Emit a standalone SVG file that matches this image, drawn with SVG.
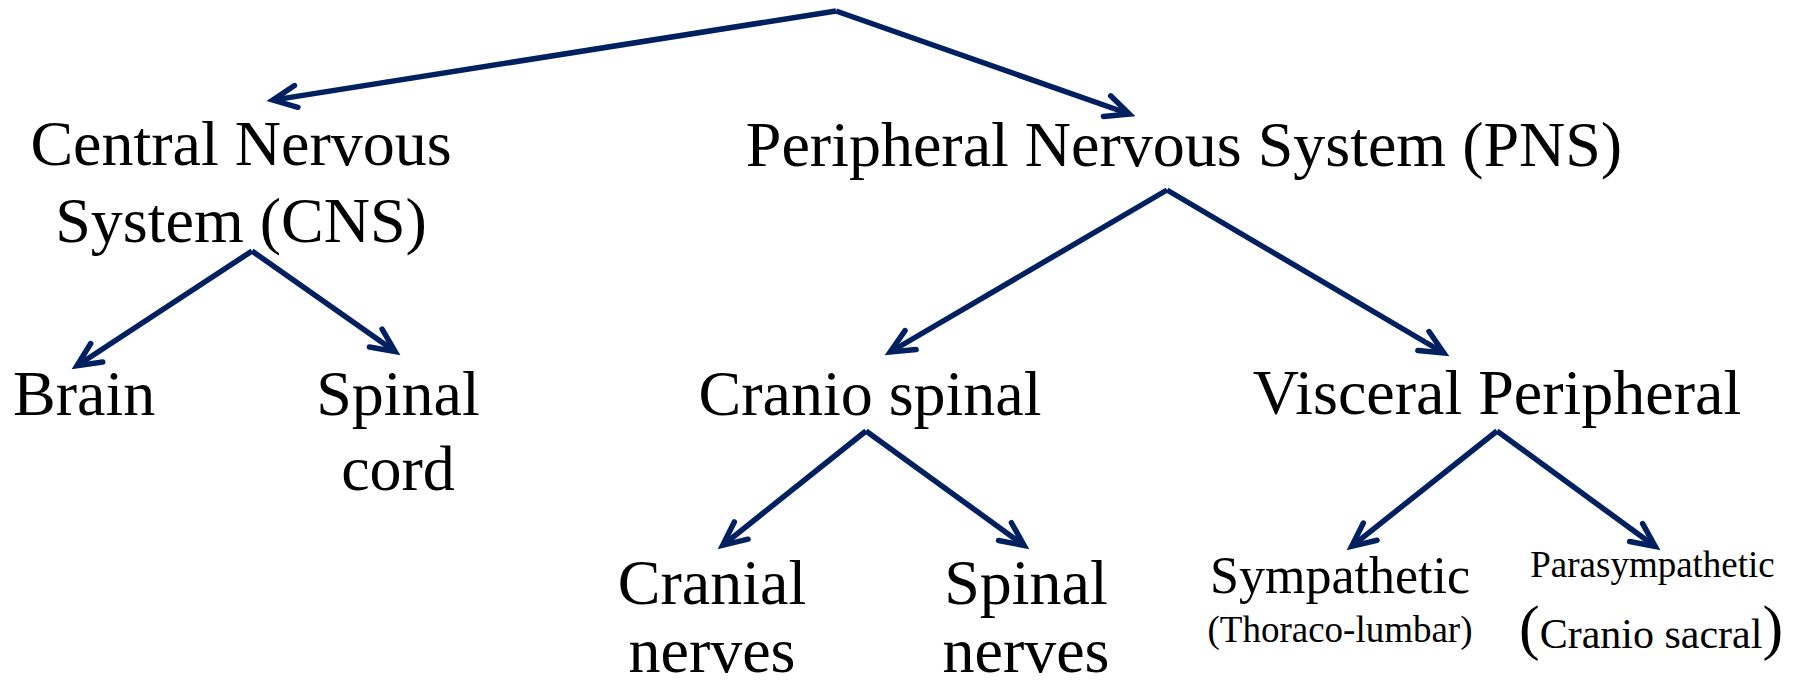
<svg xmlns="http://www.w3.org/2000/svg" width="1804" height="686" viewBox="0 0 1804 686">
<style>
text{font-family:"Liberation Serif","Times New Roman","DejaVu Serif","Noto Serif",Times,serif;fill:#000;text-anchor:middle}
.big{font-size:64px}
.mid{font-size:52px}
.sm{font-size:37px}
.c{fill:none;stroke:#002060;stroke-width:5.5}
</style>
<defs>
<marker id="ah" markerUnits="userSpaceOnUse" orient="auto" refX="0" refY="0" markerWidth="40" markerHeight="40" viewBox="-30 -20 40 40" overflow="visible">
<path d="M-23.6,-11 L0,0 L-23.6,11" fill="none" stroke="#002060" stroke-width="5.5" stroke-linecap="round" stroke-linejoin="miter"/>
</marker>
</defs>
<rect width="1804" height="686" fill="#fff"/>
<g id="connectors">
<line class="c" x1="836" y1="11" x2="272.9" y2="100.1" marker-end="url(#ah)"/>
<line class="c" x1="836" y1="11" x2="1129.3" y2="114" marker-end="url(#ah)"/>
<line class="c" x1="252" y1="251" x2="77" y2="365.7" marker-end="url(#ah)"/>
<line class="c" x1="252" y1="251" x2="395.1" y2="351.6" marker-end="url(#ah)"/>
<line class="c" x1="1167" y1="190" x2="890.2" y2="352" marker-end="url(#ah)"/>
<line class="c" x1="1167" y1="190" x2="1443.8" y2="353" marker-end="url(#ah)"/>
<line class="c" x1="866" y1="431" x2="722.7" y2="545.3" marker-end="url(#ah)"/>
<line class="c" x1="866" y1="431" x2="1024.1" y2="545.5" marker-end="url(#ah)"/>
<line class="c" x1="1497" y1="431" x2="1351.7" y2="546.3" marker-end="url(#ah)"/>
<line class="c" x1="1497" y1="431" x2="1655.2" y2="546.5" marker-end="url(#ah)"/>
</g>
<g id="cns">
<text class="big" x="241" y="165">Central Nervous</text>
<text class="big" x="241" y="242">System (CNS)</text>
</g>
<g id="brain">
<text class="big" x="13" y="415" style="text-anchor:start">Brain</text>
</g>
<g id="spinal-cord">
<text class="big" x="398" y="415">Spinal</text>
<text class="big" x="398" y="490">cord</text>
</g>
<g id="pns">
<text class="big" x="1184" y="166">Peripheral Nervous System (PNS)</text>
</g>
<g id="cranio-spinal">
<text class="big" x="870" y="415">Cranio spinal</text>
</g>
<g id="visceral">
<text class="big" x="1497" y="414">Visceral Peripheral</text>
</g>
<g id="cranial-nerves">
<text class="big" x="712" y="604">Cranial</text>
<text class="big" x="712" y="672">nerves</text>
</g>
<g id="spinal-nerves">
<text class="big" x="1026" y="604">Spinal</text>
<text class="big" x="1026" y="672">nerves</text>
</g>
<g id="sympathetic">
<text class="mid" x="1340" y="593">Sympathetic</text>
<text class="sm" x="1340" y="642">(Thoraco-lumbar)</text>
</g>
<g id="parasympathetic">
<text class="sm" x="1652.5" y="577">Parasympathetic</text>
<text x="1519" y="648" style="text-anchor:start"><tspan font-size="62">(</tspan><tspan font-size="42">Cranio sacral</tspan><tspan font-size="62">)</tspan></text>
</g>
</svg>
